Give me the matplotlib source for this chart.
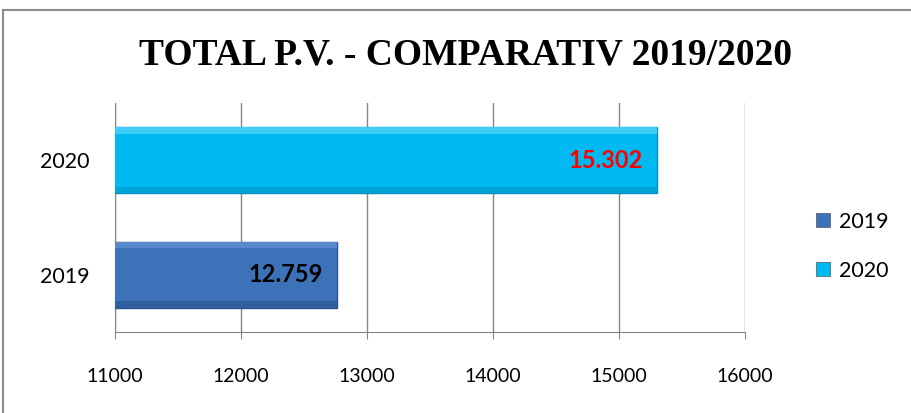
import matplotlib.pyplot as plt
from matplotlib.lines import Line2D

# data
years = ["2019", "2020"]
totals = [12759, 15302]
value_labels = ["12.759", "15.302"]
label_colors = ["black", "red"]
bar_colors = ["#3d72b8", "#00b9f1"]
x_ticks = [11000, 12000, 13000, 14000, 15000, 16000]

plt.rcParams['font.family'] = ['Lato', 'DejaVu Sans']

fig = plt.figure(figsize=(9.11, 4.13), dpi=100)
ax = fig.add_axes([0.1262, 0.196, 0.6916, 0.5546])

ypos = range(len(years))
bars = ax.barh(ypos, totals, height=0.58, color=bar_colors,
               edgecolor=["#2a5590", "#0090c0"], linewidth=1.0, zorder=3)

# bevel: lighter top strip, darker bottom strip
for b, top, bot in zip(bars, ["#5a8acb", "#3fcdf7"], ["#30609f", "#00a4d8"]):
    ax.barh(b.get_y() + b.get_height() - 0.03, b.get_width(), height=0.06,
            align="center", color=top, linewidth=0, zorder=4)
    ax.barh(b.get_y() + 0.03, b.get_width(), height=0.06,
            align="center", color=bot, linewidth=0, zorder=4)

for y, v, lab, c in zip(ypos, totals, value_labels, label_colors):
    ax.text(v - 110, y, lab, ha="right", va="center", color=c,
            fontsize=17, fontweight="bold", zorder=5)

ax.set_xlim(11000, 16000)
ax.set_ylim(-0.5, 1.5)
ax.set_xticks(x_ticks)
ax.set_xticklabels([str(t) for t in x_ticks], fontsize=14)
ax.set_yticks(list(ypos))
ax.set_yticklabels(years, fontsize=15.5)
ax.tick_params(axis="x", length=5, color="#868686", pad=21)
ax.tick_params(axis="y", length=0, pad=18)
ax.grid(axis="x", color="#868686", linewidth=1.0, zorder=0)
for s in ["top", "right"]:
    ax.spines[s].set_visible(False)
for s in ["left", "bottom"]:
    ax.spines[s].set_color("#868686")

fig.text(0.511, 0.866, "TOTAL P.V. - COMPARATIV 2019/2020", family="Liberation Serif",
         fontsize=27, fontweight="bold", ha="center", va="center")

handles = [plt.Rectangle((0, 0), 1, 1, facecolor=c, edgecolor="#555555", linewidth=0.5)
           for c in bar_colors]
fig.legend(handles, years, loc="center left", bbox_to_anchor=(0.874, 0.404),
           frameon=False, fontsize=15.5, handlelength=0.65, handleheight=0.65,
           handletextpad=0.45, labelspacing=1.35)

# chart frame (left and top edges visible)
fig.add_artist(Line2D([0.0035, 0.0035], [0.0, 0.976], color="#8c8c8c", linewidth=1.5))
fig.add_artist(Line2D([0.0035, 1.0], [0.976, 0.976], color="#8c8c8c", linewidth=1.5))

fig.savefig("out.png", dpi=100)
